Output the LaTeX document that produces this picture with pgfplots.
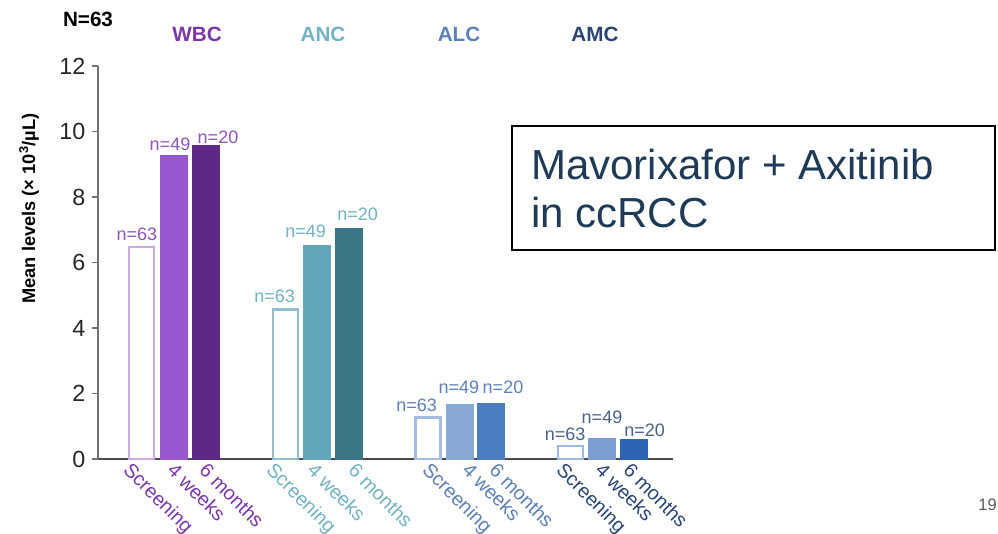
\documentclass[border=0pt]{standalone}
\usepackage{pgfplots}
\pgfplotsset{compat=1.18}
\usepackage{fontspec}
\setmainfont{Liberation Sans}

% group palettes: screening outline, 4 weeks fill, 6 months fill, text
\definecolor{wbcS}{HTML}{C9AAE3}
\definecolor{wbcM}{HTML}{9A56CC}
\definecolor{wbcD}{HTML}{5E2888}
\definecolor{wbcT}{HTML}{7B37A8}
\definecolor{ancS}{HTML}{8DC0CC}
\definecolor{ancM}{HTML}{62A6BA}
\definecolor{ancD}{HTML}{3C7787}
\definecolor{ancT}{HTML}{72B2C2}
\definecolor{alcS}{HTML}{A4BCE0}
\definecolor{alcM}{HTML}{8AA8D4}
\definecolor{alcD}{HTML}{4A7EC0}
\definecolor{alcT}{HTML}{5D80B8}
\definecolor{amcS}{HTML}{9CB9E4}
\definecolor{amcM}{HTML}{7C9ED2}
\definecolor{amcD}{HTML}{2E64B2}
\definecolor{amcT}{HTML}{2A4573}
\definecolor{boxtext}{HTML}{1E3A56}

\pgfplotsset{
  scr/.style={ybar, bar shift=0pt, bar width=25, fill=white, line width=1.9pt},
  sol/.style={ybar, bar shift=0pt, bar width=27, line width=0.4pt},
}
\tikzset{nlab/.style={anchor=base, font=\fontsize{13.5}{15}\selectfont, inner sep=0pt}}

\begin{document}
\begin{tikzpicture}
\path[use as bounding box] (0,0) rectangle (748.5pt,399.75pt);
\begin{axis}[
  at={(73.5pt,55.5pt)}, anchor=south west,
  scale only axis, width=431.25pt, height=294.75pt,
  xmin=98, xmax=673, ymin=0, ymax=12,
  axis x line=bottom, axis y line=left,
  x axis line style={-, draw=black!70, line width=1.1pt},
  y axis line style={-, draw=black!55, line width=1.1pt},
  ytick={0,2,...,12},
  y tick style={draw=black!55, line width=0.8pt},
  tick align=outside, major tick length=4.5pt,
  yticklabel style={font=\fontsize{17.5}{19}\selectfont, text=black!85, xshift=-1.5pt},
  /pgf/number format/assume math mode=true,
  % category labels sit just below their bars
  xtick={139,183,215,282,323,364,438,478,505,572,611,639},
  xticklabels={
    \textcolor{wbcT}{Screening},\textcolor{wbcT}{4 weeks},\textcolor{wbcT}{6 months},
    \textcolor{ancT}{Screening},\textcolor{ancT}{4 weeks},\textcolor{ancT}{6 months},
    \textcolor{alcT}{Screening},\textcolor{alcT}{4 weeks},\textcolor{alcT}{6 months},
    \textcolor{amcT}{Screening},\textcolor{amcT}{4 weeks},\textcolor{amcT}{6 months}},
  x tick style={draw=none},
  xticklabel style={rotate=-45, anchor=north west, font=\fontsize{14.8}{16}\selectfont,
                    xshift=-9pt, yshift=2pt},
  clip=false,
]
% WBC
\addplot[scr, draw=wbcS] coordinates {(141.5,6.48)};
\addplot[sol, draw=wbcM, fill=wbcM] coordinates {(174,9.28)};
\addplot[sol, draw=wbcD, fill=wbcD] coordinates {(206,9.59)};
% ANC
\addplot[scr, draw=ancS] coordinates {(285.5,4.57)};
\addplot[sol, draw=ancM, fill=ancM] coordinates {(316.5,6.52)};
\addplot[sol, draw=ancD, fill=ancD] coordinates {(348.5,7.04)};
% ALC
\addplot[scr, draw=alcS] coordinates {(428,1.27)};
\addplot[sol, draw=alcM, fill=alcM] coordinates {(459.5,1.68)};
\addplot[sol, draw=alcD, fill=alcD] coordinates {(491,1.70)};
% AMC
\addplot[scr, draw=amcS] coordinates {(570.5,0.40)};
\addplot[sol, draw=amcM, fill=amcM] coordinates {(602,0.63)};
\addplot[sol, draw=amcD, fill=amcD] coordinates {(634,0.60)};

% patient counts above the bars
\node[nlab, text=wbcT!85, xshift=-3.4pt, yshift=5pt]  at (axis cs:141.5,6.48) {n=63};
\node[nlab, text=wbcT!85, xshift=-3pt,   yshift=3.8pt] at (axis cs:174,9.28) {n=49};
\node[nlab, text=wbcT!85, xshift=9pt,    yshift=1.3pt] at (axis cs:206,9.59) {n=20};
\node[nlab, text=ancT, xshift=-8.2pt, yshift=5pt]  at (axis cs:285.5,4.57) {n=63};
\node[nlab, text=ancT, xshift=-8.2pt, yshift=6pt]  at (axis cs:316.5,6.52) {n=49};
\node[nlab, text=ancT, xshift=6.8pt,  yshift=6pt]  at (axis cs:348.5,7.04) {n=20};
\node[nlab, text=alcT, xshift=-8.6pt, yshift=4.7pt] at (axis cs:428,1.27) {n=63};
\node[nlab, text=alcT, xshift=-0.4pt, yshift=8.2pt] at (axis cs:459.5,1.68) {n=49};
\node[nlab, text=alcT, xshift=9pt,    yshift=7.7pt] at (axis cs:491,1.70) {n=20};
\node[nlab, text=amcT!85, xshift=-4.1pt, yshift=4pt]   at (axis cs:570.5,0.40) {n=63};
\node[nlab, text=amcT!85, xshift=0pt,    yshift=11.2pt] at (axis cs:602,0.63) {n=49};
\node[nlab, text=amcT!85, xshift=7.9pt,  yshift=2pt]   at (axis cs:634,0.60) {n=20};
\end{axis}

\begin{scope}[x=0.75pt, y=-0.75pt, yshift=399.75pt]
  % axis title
  \node[rotate=90, font=\bfseries\fontsize{13.7}{15}\selectfont] at (29,208.5)
    {Mean levels (× 10\textsuperscript{3}/µL)};
  % group headers
  \node[font=\bfseries\fontsize{15.5}{17}\selectfont] at (88,19) {N=63};
  \node[font=\bfseries\fontsize{15.5}{17}\selectfont, text=wbcT] at (197,34.5) {WBC};
  \node[font=\bfseries\fontsize{15.5}{17}\selectfont, text=ancT] at (323,34.5) {ANC};
  \node[font=\bfseries\fontsize{15.5}{17}\selectfont, text=alcT] at (459,34.5) {ALC};
  \node[font=\bfseries\fontsize{15.5}{17}\selectfont, text=amcT] at (595,34.5) {AMC};
  % study box
  \draw[line width=2.2pt, black] (512,126) rectangle (995,250);
  \node[anchor=base west, inner sep=0pt, text=boxtext, font=\fontsize{31.5}{36}\selectfont]
    at (531,179.5) {Mavorixafor + Axitinib};
  \node[anchor=base west, inner sep=0pt, text=boxtext, font=\fontsize{31.5}{36}\selectfont]
    at (531,227.5) {in ccRCC};
  % slide number
  \node[anchor=base east, inner sep=0pt, text=black!65, font=\fontsize{12.4}{14}\selectfont]
    at (997,510) {19};
\end{scope}
\end{tikzpicture}
\end{document}
